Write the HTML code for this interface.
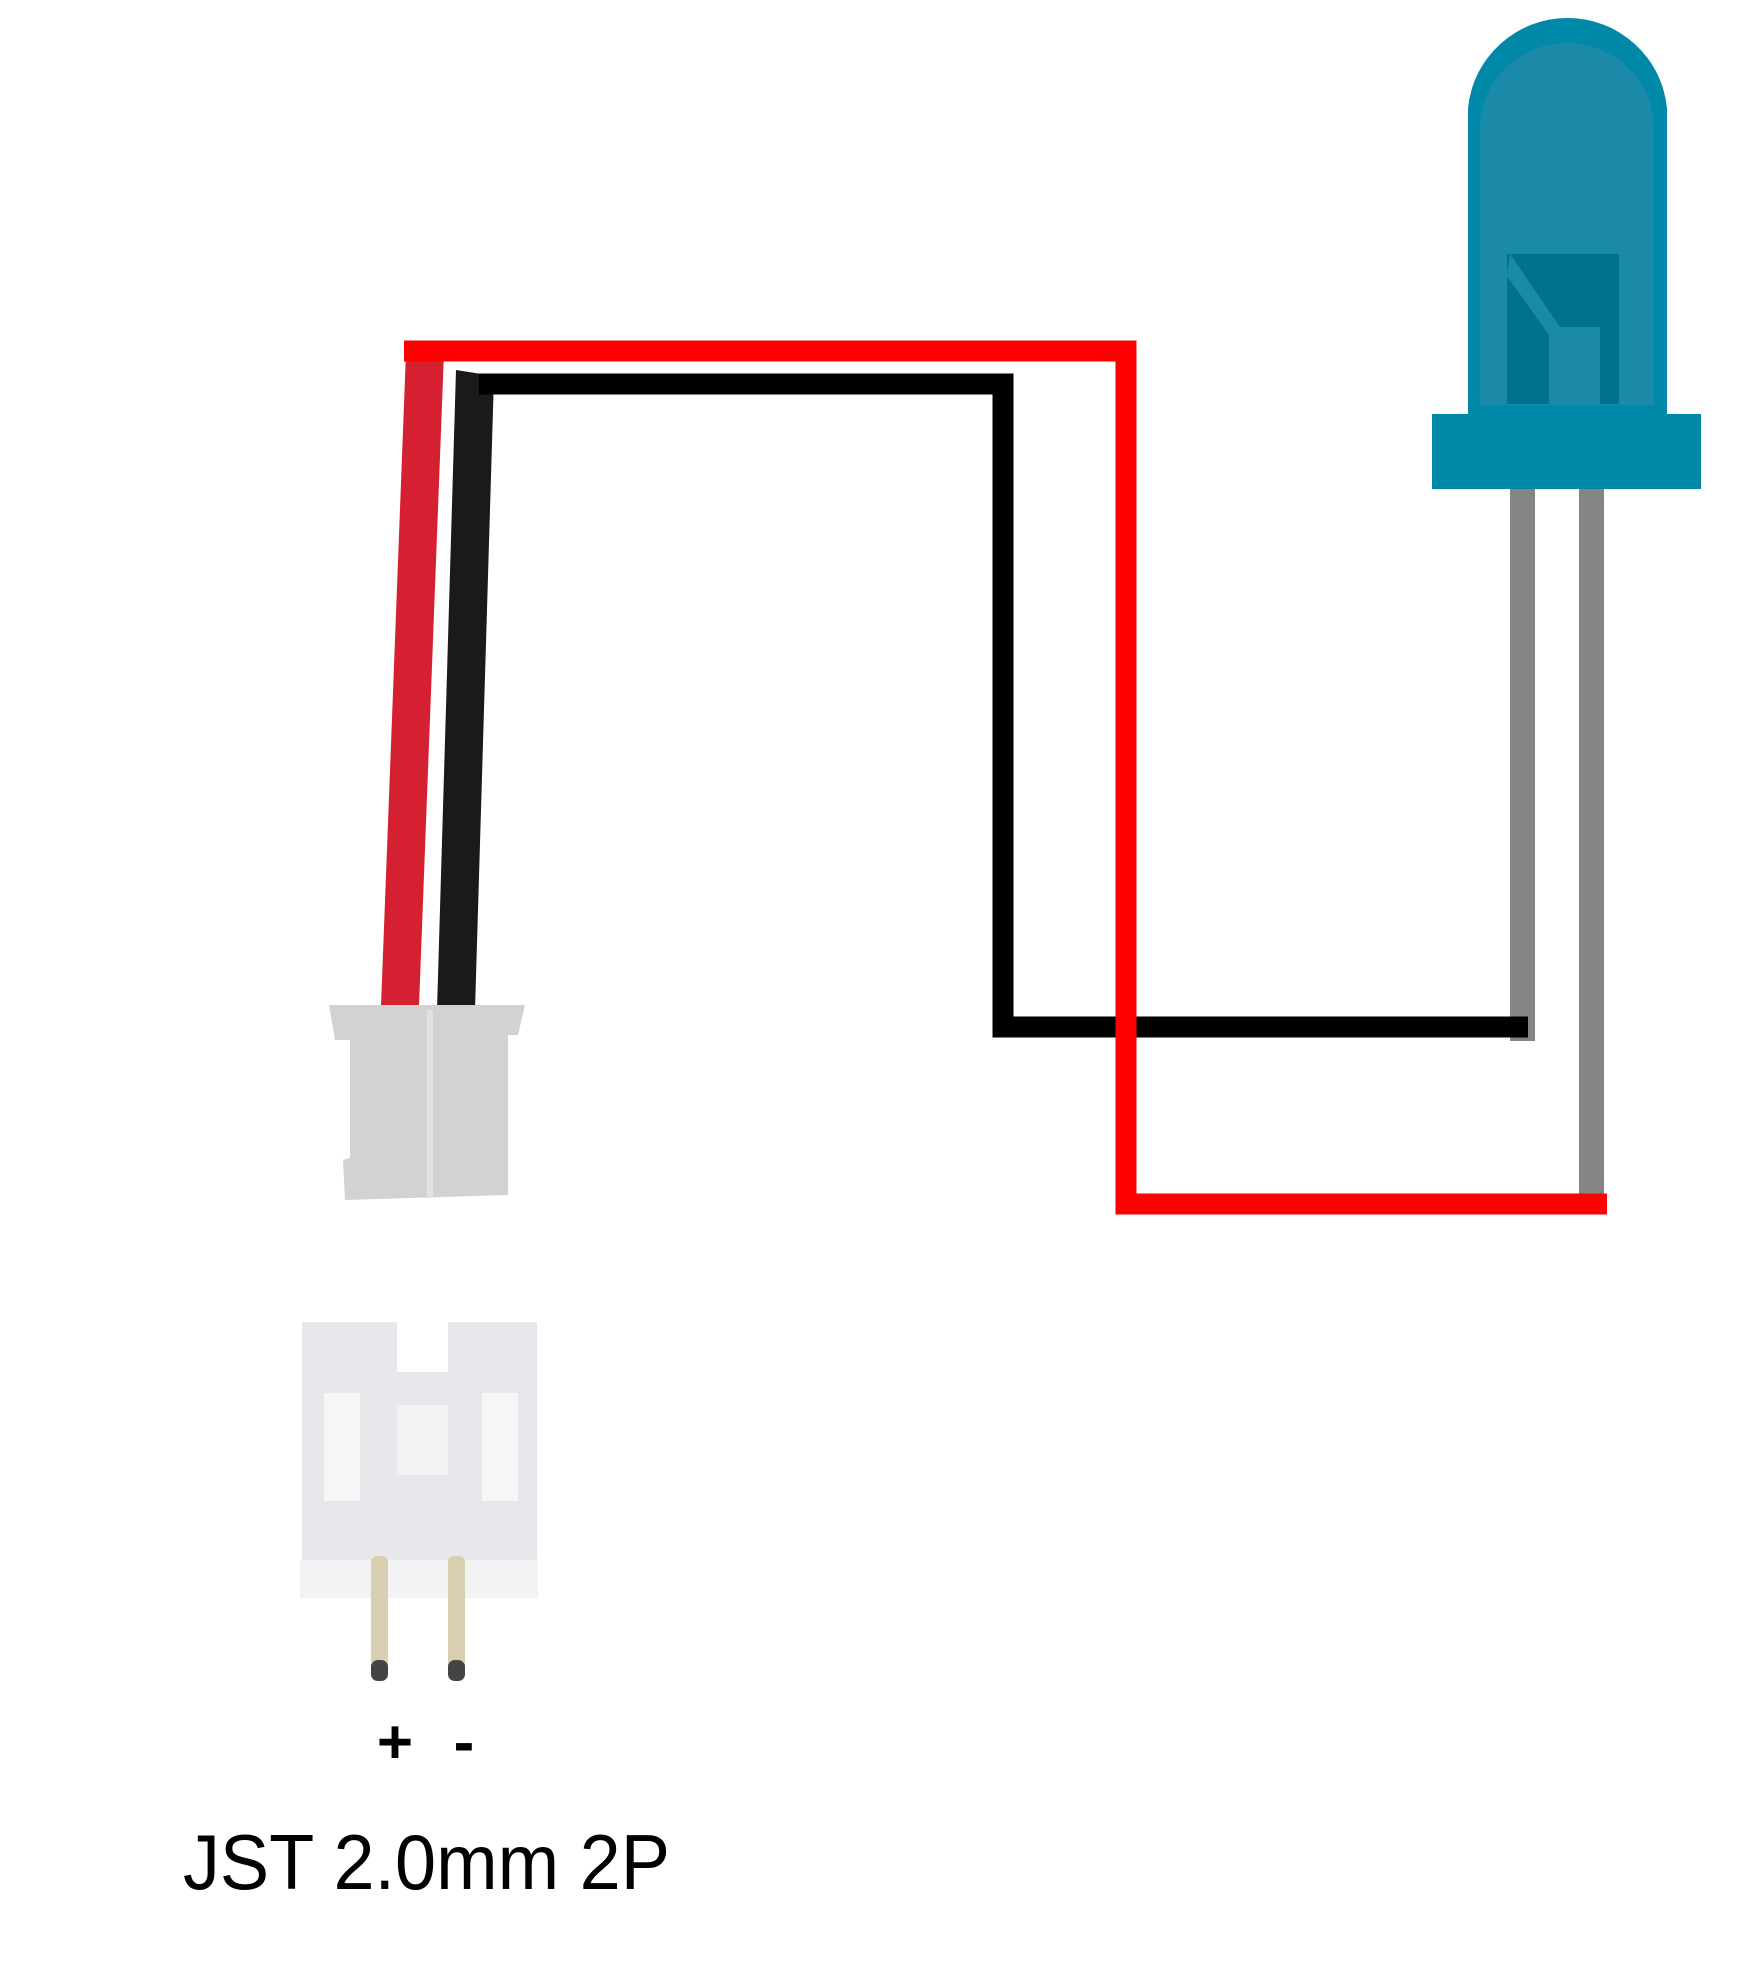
<!DOCTYPE html>
<html><head><meta charset="utf-8"><style>html,body{margin:0;padding:0;background:#fff}svg{display:block}</style></head>
<body>
<svg width="1737" height="1961" viewBox="0 0 1737 1961" xmlns="http://www.w3.org/2000/svg">
  <rect width="1737" height="1961" fill="#fff"/>
  <!-- LED -->
  <g>
    <rect x="1510" y="480" width="25" height="561" fill="#858585"/>
    <rect x="1579" y="480" width="25" height="720" fill="#858585"/>
    <path d="M1468 420 V108 A100 100 0 0 1 1667 108 V420 Z" fill="#0088a8"/>
    <path d="M1480 405 V128 A87 85 0 0 1 1654 128 V405 Z" fill="#1a8aa8"/>
    <rect x="1507" y="254" width="112" height="150" fill="#00728f"/>
    <path d="M1510 254 L1560 327 L1600 327 L1600 404 L1549 404 L1549 335 L1507 276 Z" fill="#1a8aa8"/>
    <rect x="1432" y="414" width="269" height="75" fill="#0088a8"/>
  </g>
  <!-- cable -->
  <polygon points="406,352 444,352 419,1006 381,1006" fill="#d42030"/>
  <polygon points="456,370 494,376 475,1010 437,1010" fill="#1a1a1a"/>
  <!-- plug housing -->
  <path d="M329 1005 L525 1005 L518 1035 L508 1035 L508 1195 L345 1200 L343 1160 L350 1158 L350 1040 L335 1040 Z" fill="#d4d2d0"/>
  <rect x="427" y="1010" width="6" height="188" fill="#e4e2e0"/>
  <!-- header -->
  <g>
    <path d="M302 1322 H397 V1372 H448 V1322 H537 V1560 H302 Z" fill="#e8e8ec"/>
    <rect x="300" y="1560" width="238" height="38" fill="#f3f3f5"/>
    <rect x="324" y="1393" width="36" height="108" fill="#f6f6f6"/>
    <rect x="482" y="1393" width="36" height="108" fill="#f6f6f6"/>
    <rect x="397" y="1405" width="51" height="70" fill="#f2f2f2"/>
    <rect x="371" y="1556" width="17" height="125" rx="6" fill="#d8cfb0"/>
    <rect x="448" y="1556" width="17" height="125" rx="6" fill="#d8cfb0"/>
    <rect x="371" y="1660" width="17" height="21" rx="7" fill="#444"/>
    <rect x="448" y="1660" width="17" height="21" rx="7" fill="#444"/>
  </g>
  <!-- wires -->
  <polyline points="479,384 1003,384 1003,1027 1528,1027" fill="none" stroke="#000" stroke-width="21"/>
  <polyline points="404,351 1126,351 1126,1204 1607,1204" fill="none" stroke="#ff0000" stroke-width="21"/>
  <!-- labels -->
  <text x="395" y="1763" font-family="Liberation Sans, sans-serif" font-size="62" font-weight="bold" text-anchor="middle" fill="#000">+</text>
  <text x="464" y="1763" font-family="Liberation Sans, sans-serif" font-size="62" font-weight="bold" text-anchor="middle" fill="#000">-</text>
  <text x="183" y="1889" font-family="Liberation Sans, sans-serif" font-size="78" textLength="487" lengthAdjust="spacingAndGlyphs" fill="#000">JST 2.0mm 2P</text>
</svg>
</body></html>
